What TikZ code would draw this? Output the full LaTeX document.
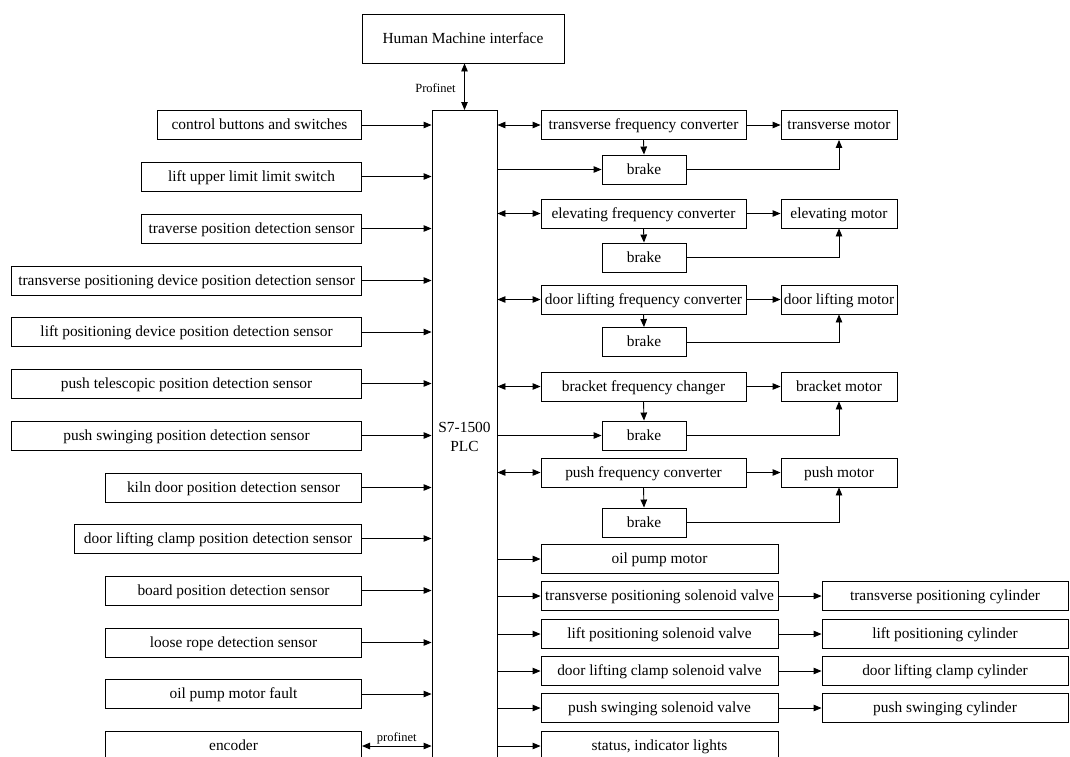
\documentclass[tikz,border=0pt]{standalone}
\usepackage{fontspec}
\setmainfont{Liberation Serif}
\usetikzlibrary{arrows.meta}
\begin{document}
\begin{tikzpicture}[x=1pt,y=-1pt,
  box/.style={draw, line width=0.9pt, minimum height=29pt, inner sep=0pt, text height=12.5pt, text depth=2.9pt, font=\fontsize{15.4}{18}\selectfont},
  lbl/.style={font=\fontsize{12.5}{14}\selectfont, inner sep=1pt},
  arr/.style={-{Triangle[length=8pt,width=6.5pt]}, line width=0.9pt},
  darr/.style={{Triangle[length=8pt,width=6.5pt]}-{Triangle[length=8pt,width=6.5pt]}, line width=0.9pt},
  plain/.style={line width=0.9pt}]
\useasboundingbox (0,0) rectangle (1070,756);
\clip (0,0) rectangle (1070,756);
% HMI and PLC
\node[box, minimum width=202pt, minimum height=49pt] (hmi) at (463,38.5) {Human Machine interface};
\node[draw, line width=0.9pt, minimum width=65pt, minimum height=660pt, anchor=north, inner sep=0pt] (plc) at (464.5,110) {};
\node[font=\fontsize{15.4}{18.5}\selectfont, align=center] (plctxt) at (464.5,437) {S7-1500\\PLC};
\draw[darr] (hmi.south -| plc.north) -- (plc.north);
\node[lbl] (pn) at (435.5,88) {Profinet};
% left inputs
\node[box, minimum width=204pt, anchor=east] (l1) at (362,125) {control buttons and switches};
\node[box, minimum width=220pt, anchor=east] (l2) at (362,176.5) {lift upper limit limit switch};
\node[box, minimum width=220pt, anchor=east] (l3) at (362,228.5) {traverse position detection sensor};
\node[box, minimum width=350pt, anchor=east] (l4) at (362,280.5) {transverse positioning device position detection sensor};
\node[box, minimum width=350pt, anchor=east] (l5) at (362,332) {lift positioning device position detection sensor};
\node[box, minimum width=350pt, anchor=east] (l6) at (362,383.5) {push telescopic position detection sensor};
\node[box, minimum width=350pt, anchor=east] (l7) at (362,435.5) {push swinging position detection sensor};
\node[box, minimum width=256pt, anchor=east] (l8) at (362,487.5) {kiln door position detection sensor};
\node[box, minimum width=287pt, anchor=east] (l9) at (362,538.5) {door lifting clamp position detection sensor};
\node[box, minimum width=256pt, anchor=east] (l10) at (362,590.5) {board position detection sensor};
\node[box, minimum width=256pt, anchor=east] (l11) at (362,642.5) {loose rope detection sensor};
\node[box, minimum width=256pt, anchor=east] (l12) at (362,694) {oil pump motor fault};
\node[box, minimum width=256pt, anchor=east] (l13) at (362,746) {encoder};
\foreach \n in {l1,l2,l3,l4,l5,l6,l7,l8,l9,l10,l11,l12}
  \draw[arr] (\n.east) -- (\n.east -| plc.west);
\draw[darr] (l13.east) -- node[lbl, above] {profinet} (l13.east -| plc.west);
% drive groups
\foreach \i/\y/\by/\ct/\mt in {
  1/125/169.5/transverse frequency converter/transverse motor,
  2/213.5/257.5/elevating frequency converter/elevating motor,
  3/299.5/342/door lifting frequency converter/door lifting motor,
  4/386.5/435.5/bracket frequency changer/bracket motor,
  5/472.5/522.5/push frequency converter/push motor}{
  \node[box, minimum width=205pt] (c\i) at (643.5,\y) {\ct};
  \node[box, minimum width=116pt] (m\i) at (839,\y) {\mt};
  \node[box, minimum width=84pt] (b\i) at (644,\by) {brake};
  \draw[darr] (c\i.west -| plc.east) -- (c\i.west);
  \draw[arr] (c\i.east) -- (m\i.west);
  \draw[arr] (c\i.south) -- (b\i.north);
  \draw[arr] (b\i.east) -| (m\i.south);
}
\draw[arr] (b1.west -| plc.east) -- (b1.west);
\draw[arr] (b4.west -| plc.east) -- (b4.west);
% outputs
\foreach \i/\y/\t in {1/559/oil pump motor, 2/596/transverse positioning solenoid valve, 3/634/lift positioning solenoid valve, 4/671/door lifting clamp solenoid valve, 5/708/push swinging solenoid valve, 6/746/{status, indicator lights}}{
  \node[box, minimum width=237pt] (v\i) at (659.5,\y) {\t};
  \draw[arr] (v\i.west -| plc.east) -- (v\i.west);
}
\foreach \i/\t in {2/transverse positioning cylinder, 3/lift positioning cylinder, 4/door lifting clamp cylinder, 5/push swinging cylinder}{
  \node[box, minimum width=246pt] (cy\i) at (945,0 |- v\i) {\t};
  \draw[arr] (v\i.east) -- (cy\i.west);
}
\end{tikzpicture}
\end{document}
